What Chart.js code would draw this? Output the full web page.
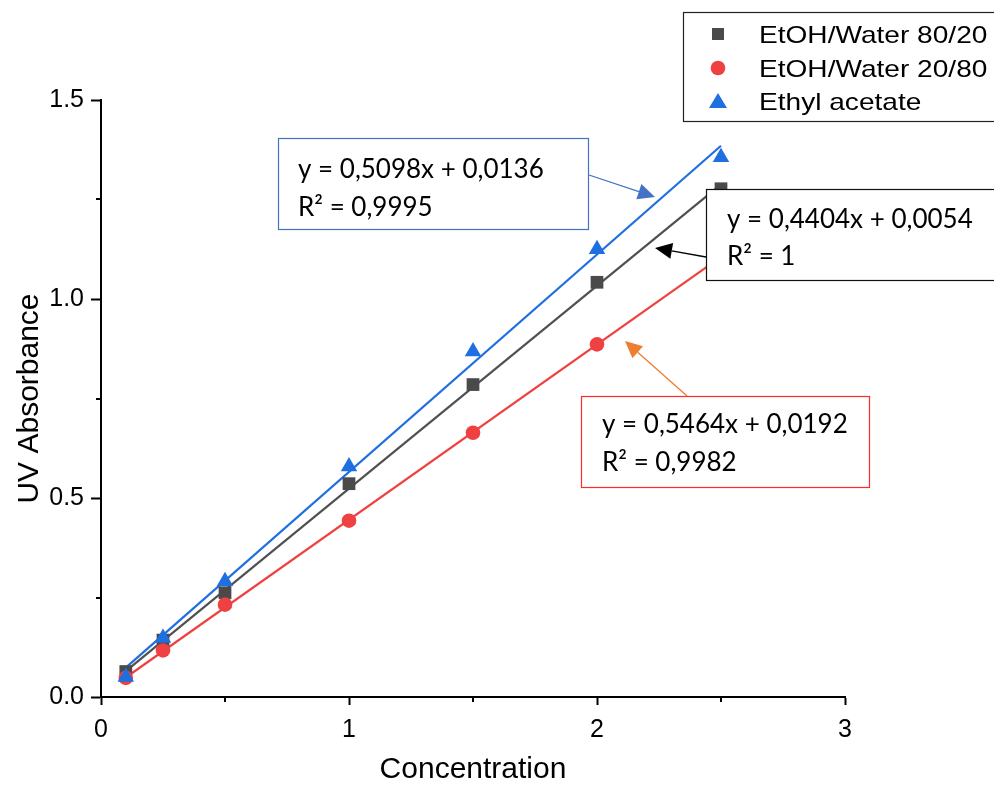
<!DOCTYPE html>
<html>
<head>
<meta charset="utf-8">
<script src="https://cdn.jsdelivr.net/npm/chart.js@4/dist/chart.umd.min.js"></script>
<style>
html,body{margin:0;padding:0;background:#fff;}
#wrap{width:994px;height:785px;position:relative;}
</style>
</head>
<body>
<div id="wrap"><canvas id="c" width="994" height="785"></canvas></div>
<script>
// ---- data ----
const concentration = [0.1, 0.25, 0.5, 1, 1.5, 2, 2.5];
const etohWater8020 = [0.064, 0.143, 0.262, 0.536, 0.785, 1.042, 1.277];
const etohWater2080 = [0.048, 0.117, 0.232, 0.443, 0.664, 0.886, 1.106];
const ethylAcetate  = [0.050, 0.148, 0.291, 0.579, 0.868, 1.125, 1.356];

// fitted-line end points (x = first and last concentration)
const fitX = [0.1, 2.5];
const fit8020 = [0.065, 1.288];
const fit2080 = [0.049, 1.106];
const fitEthyl = [0.074, 1.385];

const seriesNames = ['EtOH/Water 80/20', 'EtOH/Water 20/80', 'Ethyl acetate'];
const fitLabels = [
  ['y = 0,5098x + 0,0136', 'R² = 0,9995'],
  ['y = 0,4404x + 0,0054', 'R² = 1'],
  ['y = 0,5464x + 0,0192', 'R² = 0,9982']
];
const xTicks = [0, 1, 2, 3];
const yTicks = [0, 0.5, 1.0, 1.5];

const COL_BLACK = '#4a4a4a', COL_RED = '#ef4141', COL_BLUE = '#1e6fe0';
const LINE_BLACK = '#505050';

const pts = (xs, ys) => xs.map((x, i) => ({x: x, y: ys[i]}));

const minorPlugin = {
  id: 'minorTicks',
  afterDraw(chart) {
    const ctx = chart.ctx, xs = chart.scales.x, ys = chart.scales.y;
    ctx.save();
    ctx.strokeStyle = '#000';
    ctx.lineWidth = 2;
    [0.5, 1.5, 2.5].forEach(v => {
      const px = Math.round(xs.getPixelForValue(v));
      ctx.beginPath(); ctx.moveTo(px, ys.bottom); ctx.lineTo(px, ys.bottom + 5); ctx.stroke();
    });
    [0.25, 0.75, 1.25].forEach(v => {
      const py = Math.round(ys.getPixelForValue(v));
      ctx.beginPath(); ctx.moveTo(xs.left, py); ctx.lineTo(xs.left - 5, py); ctx.stroke();
    });
    ctx.restore();
  }
};

function arrow(ctx, x1, y1, x2, y2, color) {
  const ang = Math.atan2(y2 - y1, x2 - x1);
  const hl = 17, hw = 8;
  const bx = x2 - hl * Math.cos(ang), by = y2 - hl * Math.sin(ang);
  ctx.save();
  ctx.strokeStyle = color; ctx.fillStyle = color; ctx.lineWidth = 1.3;
  ctx.beginPath(); ctx.moveTo(x1, y1); ctx.lineTo(bx, by); ctx.stroke();
  ctx.beginPath();
  ctx.moveTo(x2, y2);
  ctx.lineTo(bx + hw * Math.sin(ang), by - hw * Math.cos(ang));
  ctx.lineTo(bx - hw * Math.sin(ang), by + hw * Math.cos(ang));
  ctx.closePath(); ctx.fill();
  ctx.restore();
}

function textBox(ctx, x, y, w, h, border, lines, tx, b1, b2) {
  ctx.save();
  ctx.fillStyle = '#fff';
  ctx.fillRect(x, y, w, h);
  ctx.strokeStyle = border; ctx.lineWidth = 1.2;
  ctx.strokeRect(x + 0.5, y + 0.5, w, h);
  ctx.fillStyle = '#000';
  ctx.font = '26px Lato';
  ctx.textBaseline = 'alphabetic';
  ctx.textAlign = 'left';
  ctx.fillText(lines[0], tx, b1);
  ctx.fillText(lines[1], tx, b2);
  ctx.restore();
}

const overlayPlugin = {
  id: 'overlay',
  afterDraw(chart) {
    const ctx = chart.ctx;
    // annotation boxes
    textBox(ctx, 278, 138, 310, 91, '#4472c4', fitLabels[0], 298, 178, 216);
    textBox(ctx, 706, 189, 290, 91, '#111', fitLabels[1], 727, 228, 265);
    textBox(ctx, 581, 396, 288, 91, '#ff2a2a', fitLabels[2], 602, 433, 471);
    arrow(ctx, 589, 175, 655, 197, '#4472c4');
    arrow(ctx, 706, 257, 655, 248, '#000');
    arrow(ctx, 687, 396, 625, 341, '#ed7d31');

    // legend
    ctx.save();
    ctx.fillStyle = '#fff';
    ctx.fillRect(683, 12, 320, 110);
    ctx.strokeStyle = '#222'; ctx.lineWidth = 1.2;
    ctx.strokeRect(683.5, 12.5, 330, 109);
    const rows = [34, 68, 101];
    ctx.fillStyle = COL_BLACK;
    ctx.fillRect(712, rows[0] - 6, 12, 12);
    ctx.fillStyle = COL_RED;
    ctx.beginPath(); ctx.arc(718, rows[1], 7.3, 0, Math.PI * 2); ctx.fill();
    ctx.fillStyle = COL_BLUE;
    ctx.beginPath();
    ctx.moveTo(718, rows[2] - 8); ctx.lineTo(727, rows[2] + 7); ctx.lineTo(709, rows[2] + 7);
    ctx.closePath(); ctx.fill();
    ctx.fillStyle = '#000';
    ctx.font = '24px "Liberation Sans"';
    ctx.textBaseline = 'alphabetic';
    rows.forEach((r, i) => {
      ctx.save();
      ctx.translate(759, r + 8.5);
      ctx.scale(1.17, 1);
      ctx.fillText(seriesNames[i], 0, 0);
      ctx.restore();
    });
    ctx.restore();
  }
};

Chart.defaults.font.family = '"Liberation Sans", Arial, sans-serif';
Chart.defaults.color = '#000';

new Chart(document.getElementById('c'), {
  type: 'scatter',
  data: {
    datasets: [
      {label: seriesNames[2], data: pts(concentration, ethylAcetate), pointStyle: 'triangle', pointRadius: 9.5,
       backgroundColor: COL_BLUE, borderColor: COL_BLUE, borderWidth: 0, order: 1},
      {label: seriesNames[1], data: pts(concentration, etohWater2080), pointStyle: 'circle', pointRadius: 7.3,
       backgroundColor: COL_RED, borderColor: COL_RED, borderWidth: 0, order: 2},
      {label: seriesNames[0], data: pts(concentration, etohWater8020), pointStyle: 'rect', pointRadius: 9,
       backgroundColor: COL_BLACK, borderColor: COL_BLACK, borderWidth: 0, order: 3},
      {label: 'fit ethyl', data: pts(fitX, fitEthyl), showLine: true, pointRadius: 0, borderColor: COL_BLUE, borderWidth: 2.2, order: 4},
      {label: 'fit 20/80', data: pts(fitX, fit2080), showLine: true, pointRadius: 0, borderColor: COL_RED, borderWidth: 2.2, order: 5},
      {label: 'fit 80/20', data: pts(fitX, fit8020), showLine: true, pointRadius: 0, borderColor: LINE_BLACK, borderWidth: 2.2, order: 6}
    ]
  },
  options: {
    responsive: false,
    animation: false,
    devicePixelRatio: 1,
    layout: {padding: {left: 0, top: 100, right: 149, bottom: 0}},
    plugins: {legend: {display: false}, tooltip: {enabled: false}},
    scales: {
      x: {
        type: 'linear', min: 0, max: 3, position: 'bottom',
        afterFit: s => { s.height = 88; },
        afterBuildTicks: s => { s.ticks = [0, 0.5, 1, 1.5, 2, 2.5, 3].map(v => ({value: v})); },
        ticks: {
          autoSkip: false, maxRotation: 0, padding: 10,
          font: {size: 25},
          callback: v => xTicks.includes(v) ? String(v) : ''
        },
        grid: {drawOnChartArea: false, drawTicks: true, tickLength: 8, tickWidth: 2,
               tickColor: c => (c.tick && xTicks.includes(c.tick.value)) ? '#000' : 'rgba(0,0,0,0)'},
        border: {display: true, color: '#000', width: 2},
        title: {display: true, text: 'Concentration', font: {size: 30, lineHeight: 1}, padding: {top: 0, bottom: 0}}
      },
      y: {
        type: 'linear', min: 0, max: 1.5,
        afterFit: s => { s.width = 101; },
        afterBuildTicks: s => { s.ticks = [0, 0.25, 0.5, 0.75, 1, 1.25, 1.5].map(v => ({value: v})); },
        ticks: {
          autoSkip: false, padding: 7,
          font: {size: 25},
          callback: v => yTicks.some(t => Math.abs(t - v) < 1e-9) ? v.toFixed(1) : ''
        },
        grid: {drawOnChartArea: false, drawTicks: true, tickLength: 10, tickWidth: 2,
               tickColor: c => (c.tick && yTicks.some(t => Math.abs(t - c.tick.value) < 1e-9)) ? '#000' : 'rgba(0,0,0,0)'},
        border: {display: true, color: '#000', width: 2},
        title: {display: true, text: 'UV Absorbance', font: {size: 30, lineHeight: 1}, padding: {top: 15, bottom: 0}}
      }
    }
  },
  plugins: [minorPlugin, overlayPlugin]
});
</script>
</body>
</html>
